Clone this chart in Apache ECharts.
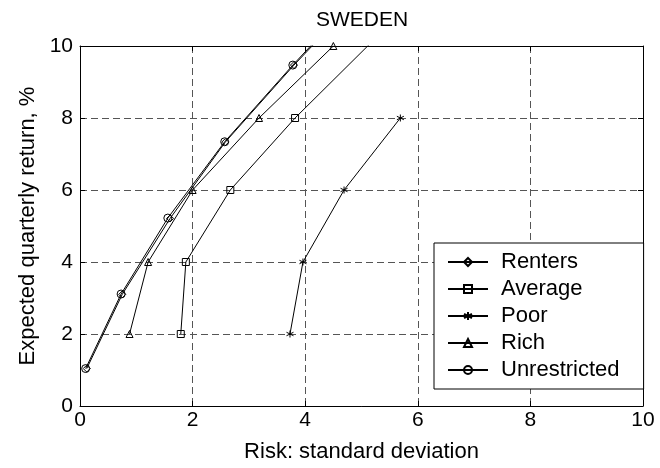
<!DOCTYPE html>
<html>
<head>
<meta charset="utf-8">
<script src="https://cdn.jsdelivr.net/npm/echarts@6/dist/echarts.min.js"></script>
<style>
html,body{margin:0;padding:0;background:#fff;}
#c{width:660px;height:468px;}
</style>
</head>
<body>
<div id="c"></div>
<script>
// Data (x = risk std dev, y = expected quarterly return %)
const seriesNames = ['Renters', 'Average', 'Poor', 'Rich', 'Unrestricted'];
const rentersX = [0.12, 0.75, 1.60, 2.58, 3.80, 5.10];
const rentersY = [1.04, 3.10, 5.21, 7.33, 9.47, 11.60];
const averageX = [1.79, 1.88, 2.67, 3.82, 6.40];
const averageY = [2.00, 4.00, 6.00, 8.00, 12.00];
const poorX = [3.73, 3.96, 4.69, 5.69];
const poorY = [2.00, 4.00, 6.00, 8.00];
const richX = [0.88, 1.21, 2.00, 3.18, 4.50];
const richY = [2.00, 4.00, 6.00, 8.00, 10.00];
const unrestrictedX = [0.10, 0.73, 1.56, 2.57, 3.78, 5.05];
const unrestrictedY = [1.04, 3.11, 5.22, 7.34, 9.47, 11.60];
const xTicks = [0, 2, 4, 6, 8, 10];
const yTicks = [0, 2, 4, 6, 8, 10];

const pair = (xs, ys) => xs.map((x, i) => [x, ys[i]]);
const asterisk = 'path://M5,0 L5,10 M0.67,2.5 L9.33,7.5 M0.67,7.5 L9.33,2.5';
const symbols = ['diamond', 'rect', asterisk, 'triangle', 'circle'];
const sizes = [7, 7, 7, 7, 8];
const datasets = [pair(rentersX, rentersY), pair(averageX, averageY), pair(poorX, poorY), pair(richX, richY), pair(unrestrictedX, unrestrictedY)];

const FONT = 'Liberation Sans, Arial, sans-serif';
const FS = 21;      // tick labels, title
const FS_T = 22;    // axis names, legend
const xMin = xTicks[0], xMax = xTicks[xTicks.length - 1], xStep = xTicks[1] - xTicks[0];
const yMin = yTicks[0], yMax = yTicks[yTicks.length - 1], yStep = yTicks[1] - yTicks[0];

function axisBase(extra) {
  return Object.assign({
    type: 'value',
    axisLine: { show: true, onZero: false, lineStyle: { color: '#000', width: 1 } },
    axisTick: { show: true, inside: true, length: 5, lineStyle: { color: '#000', width: 1 } },
    splitLine: { show: false },
    axisLabel: { show: false }
  }, extra);
}

const chart = echarts.init(document.getElementById('c'), null, { renderer: 'canvas' });
chart.setOption({
  backgroundColor: '#fff',
  animation: false,
  textStyle: { fontFamily: FONT },
  title: {
    text: 'SWEDEN',
    left: 362, top: 10, textAlign: 'center', padding: 0,
    textStyle: { fontFamily: FONT, fontSize: FS, fontWeight: 'normal', color: '#000' }
  },
  grid: { left: 80, right: 17, top: 46, bottom: 62, containLabel: false },
  legend: {
    orient: 'vertical',
    left: 434, top: 243,
    data: seriesNames,
    itemWidth: 40, itemHeight: 10, itemGap: 5,
    padding: [8, 24, 8, 13],
    backgroundColor: '#fff',
    borderColor: '#000', borderWidth: 1, borderRadius: 0,
    textStyle: { fontFamily: FONT, fontSize: FS_T, color: '#000', lineHeight: 22, padding: [0, 0, 0, 8] }
  },
  xAxis: [
    axisBase({
      min: xMin, max: xMax, interval: xStep, position: 'bottom',
      axisLabel: { show: true, color: '#000', fontFamily: FONT, fontSize: FS, margin: 4 },
      splitLine: { show: true, lineStyle: { color: '#555', width: 1, type: [7, 4] } },
      name: 'Risk: standard deviation', nameLocation: 'middle', nameGap: 35,
      nameTextStyle: { color: '#000', fontFamily: FONT, fontSize: FS_T }
    }),
    axisBase({ min: xMin, max: xMax, interval: xStep, position: 'top' })
  ],
  yAxis: [
    axisBase({
      min: yMin, max: yMax, interval: yStep, position: 'left',
      axisLabel: { show: true, color: '#000', fontFamily: FONT, fontSize: FS, margin: 7 },
      splitLine: { show: true, lineStyle: { color: '#555', width: 1, type: [7, 4] } },
      name: 'Expected quarterly return, %', nameLocation: 'middle', nameGap: 39,
      nameTextStyle: { color: '#000', fontFamily: FONT, fontSize: FS_T }
    }),
    axisBase({ min: yMin, max: yMax, interval: yStep, position: 'right' })
  ],
  series: seriesNames.map((name, i) => ({
    name: name,
    type: 'line',
    xAxisIndex: 0, yAxisIndex: 0,
    data: datasets[i],
    clip: true,
    symbol: symbols[i],
    symbolSize: sizes[i],
    showAllSymbol: true,
    lineStyle: { color: '#000', width: 1 },
    itemStyle: { color: 'rgba(255,255,255,0)', borderColor: '#000', borderWidth: 1 },
    emphasis: { disabled: true },
    z: 3
  }))
});
</script>
</body>
</html>
